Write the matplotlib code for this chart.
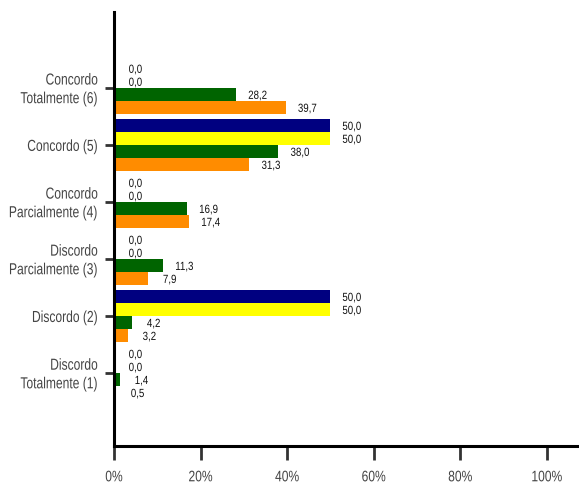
import types
import matplotlib
matplotlib.use("Agg")
import matplotlib.pyplot as plt
import numpy as np
from matplotlib import font_manager
from matplotlib.patheffects import AbstractPathEffect
from matplotlib.transforms import Affine2D, Bbox, ScaledTranslation
from matplotlib.text import Text

names = {f.name for f in font_manager.fontManager.ttflist}
if 'Liberation Sans Narrow' in names:
    fam, SX, SXT, SXV = 'Liberation Sans Narrow', 1.0, 1.0, 1.0
else:
    fam, SX, SXT, SXV = 'Liberation Sans', 0.755, 0.79, 0.82
plt.rcParams['font.family'] = [fam, 'DejaVu Sans']

categories = ["Concordo\nTotalmente (6)", "Concordo (5)", "Concordo\nParcialmente (4)",
              "Discordo\nParcialmente (3)", "Discordo (2)", "Discordo\nTotalmente (1)"]
series_navy = [0.0, 50.0, 0.0, 0.0, 50.0, 0.0]
series_yellow = [0.0, 50.0, 0.0, 0.0, 50.0, 0.0]
series_green = [28.2, 38.0, 16.9, 11.3, 4.2, 1.4]
series_orange = [39.7, 31.3, 17.4, 7.9, 3.2, 0.5]
xticks = [0, 20, 40, 60, 80, 100]
xticklabels = ["0%", "20%", "40%", "60%", "80%", "100%"]

series = [series_navy, series_yellow, series_green, series_orange]
colors = ["#000080", "#FFFF00", "#006400", "#FF8C00"]


class Condense(AbstractPathEffect):
    """Horizontally condense text glyphs about the alignment anchor."""
    def __init__(self, sx, align):
        super().__init__()
        self.sx = sx
        self.align = align

    def draw_path(self, renderer, gc, tpath, affine, rgbFace=None):
        if len(tpath.vertices):
            x0 = tpath.vertices[:, 0].min()
            x1 = tpath.vertices[:, 0].max()
        else:
            x0 = x1 = 0
        if self.align == 'right':
            cx = x1
        elif self.align == 'center':
            cx = (x0 + x1) / 2
        else:
            cx = 0
        t = Affine2D().translate(-cx, 0).scale(self.sx, 1).translate(cx, 0)
        renderer.draw_path(gc, tpath, t + affine, rgbFace)


def condense(txt, sx, align):
    if sx == 1.0:
        return
    txt.set_path_effects([Condense(sx, align)])

    def _extent(self, renderer=None, dpi=None):
        bb = Text.get_window_extent(self, renderer, dpi)
        w = bb.width * sx
        if align == 'right':
            x0 = bb.x1 - w
        elif align == 'center':
            x0 = (bb.x0 + bb.x1) / 2 - w / 2
        else:
            x0 = bb.x0
        return Bbox.from_extents(x0, bb.y0, x0 + w, bb.y1)
    txt.get_window_extent = types.MethodType(_extent, txt)


fig = plt.figure(figsize=(5.79, 4.83), dpi=100)
ax = fig.add_axes([114/579, 1-446/483, (578-114)/579, (446-12)/483])

n = len(categories)
ypos = np.arange(n)[::-1]
h = 0.228
offsets = [1.5*h, 0.5*h, -0.5*h, -1.5*h]
for s, c, off in zip(series, colors, offsets):
    y = ypos + off
    ax.barh(y, s, height=h, color=c, edgecolor='none')
    for yi, v in zip(y, s):
        t = ax.annotate(f"{v:.1f}".replace('.', ','), xy=(v, yi), xytext=(21.5, -1.5),
                        textcoords='offset pixels',
                        ha='center', va='center', fontsize=8.5, color='#111111')
        condense(t, SXV, 'center')

ax.set_xlim(0, 107.2)
ax.set_ylim(-1.28, 6.33)
ax.set_yticks(ypos)
ax.set_yticklabels(categories, fontsize=11.5, color='#444444', linespacing=1.3, va='center')
ax.set_xticks(xticks)
ax.set_xticklabels(xticklabels, fontsize=11, color='#444444')

for sp in ['top', 'right']:
    ax.spines[sp].set_visible(False)
for sp in ['left', 'bottom']:
    ax.spines[sp].set_linewidth(2.2)
    ax.spines[sp].set_color('black')
ax.tick_params(axis='x', length=10, width=2, color='#333333', direction='out', pad=7.5)
ax.tick_params(axis='y', length=6.5, width=2, color='#333333', direction='out', pad=5)

down = ScaledTranslation(0, -1.5/100, fig.dpi_scale_trans)
for lab in ax.get_yticklabels():
    lab.set_transform(lab.get_transform() + down)
    condense(lab, SX, 'right')
for lab in ax.get_xticklabels():
    condense(lab, SXT, 'center')

fig.savefig("out.png", dpi=100)
